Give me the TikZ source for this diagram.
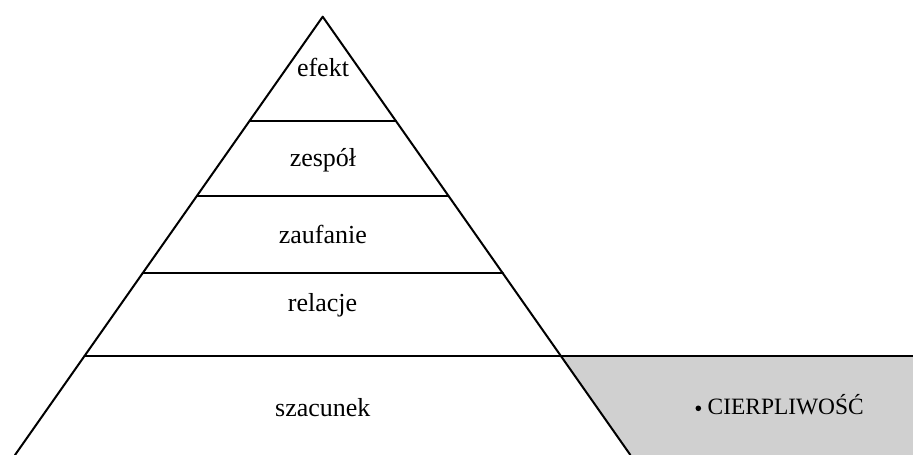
\documentclass[tikz,border=0pt]{standalone}
\usepackage{fontspec}
\setmainfont{Liberation Serif}
\definecolor{sidegray}{RGB}{208,208,208}
\tikzset{
  edge/.style={line width=2pt, line cap=round, line join=round},
  lvl/.style={anchor=base, inner sep=0pt, font=\fontsize{26}{30}\selectfont},
  side/.style={anchor=base west, inner sep=0pt, font=\fontsize{23.4}{28}\selectfont}
}
\begin{document}
\begin{tikzpicture}[x=1pt,y=-1pt]
\useasboundingbox (0,0) rectangle (913,455);
% key points
\coordinate (apex) at (322.7,16.7);
\coordinate (bl) at (15,455);
\coordinate (br) at (630.4,455);
\coordinate (l1) at (249.5,121);   \coordinate (r1) at (395.9,121);
\coordinate (l2) at (197,195.7);   \coordinate (r2) at (448.4,195.7);
\coordinate (l3) at (142.6,273.3); \coordinate (r3) at (502.8,273.3);
\coordinate (l4) at (84.5,356);    \coordinate (r4) at (560.9,356);
\coordinate (e4) at (914,356);
\coordinate (ebr) at (914,456);
\coordinate (gbl) at (631.1,456);
% grey side panel
\fill[sidegray] (r4) -- (e4) -- (ebr) -- (gbl) -- cycle;
% pyramid
\draw[edge] (bl) -- (apex) -- (br);
\draw[edge] (l1) -- (r1);
\draw[edge] (l2) -- (r2);
\draw[edge] (l3) -- (r3);
\draw[edge] (l4) -- (e4);
% labels
\node[lvl] (efekt) at (323,76.7) {efekt};
\node[lvl] (zespol) at (323,166.7) {zespół};
\node[lvl] (zaufanie) at (322.8,243.3) {zaufanie};
\node[lvl] (relacje) at (322.5,311.2) {relacje};
\node[lvl] (szacunek) at (322.8,416.7) {szacunek};
\fill (698.3,408.3) circle (2.8);
\node[side] (cierp) at (707.5,414.3) {CIERPLIWOŚĆ};
\end{tikzpicture}
\end{document}
